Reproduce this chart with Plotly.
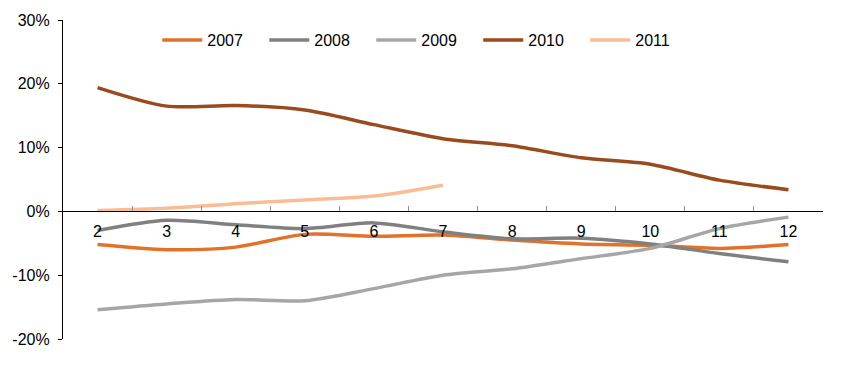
import plotly.graph_objects as go

months = ["2", "3", "4", "5", "6", "7", "8", "9", "10", "11", "12"]
y2007 = [-5.2, -6.0, -5.6, -3.6, -3.9, -3.7, -4.5, -5.1, -5.3, -5.8, -5.2]
y2008 = [-3.0, -1.4, -2.1, -2.7, -1.8, -3.2, -4.3, -4.2, -5.1, -6.6, -7.9]
y2009 = [-15.4, -14.5, -13.8, -14.0, -12.1, -10.0, -9.0, -7.4, -5.8, -2.7, -0.9]
y2010 = [19.4, 16.5, 16.6, 15.9, 13.6, 11.4, 10.3, 8.4, 7.4, 4.9, 3.4]
y2011 = [0.15, 0.5, 1.2, 1.8, 2.4, 4.1]

series = [
    ("2007", y2007, "#E2722A"),
    ("2008", y2008, "#808080"),
    ("2009", y2009, "#A6A6A6"),
    ("2010", y2010, "#9A4A1C"),
    ("2011", y2011, "#F8BD94"),
]

fig = go.Figure()
for name, vals, color in series:
    fig.add_trace(go.Scatter(
        x=months[:len(vals)], y=vals, name=name, mode="lines",
        line=dict(color=color, width=3.5, shape="spline", smoothing=0.8),
    ))

font = dict(family="Liberation Sans, Arial, sans-serif", size=16, color="#000000")
fig.update_layout(
    width=845, height=379,
    margin=dict(l=55, r=30, t=12, b=48),
    paper_bgcolor="white", plot_bgcolor="white",
    font=font,
    showlegend=True,
    legend=dict(orientation="h", x=0.124, xanchor="left", y=0.937, yanchor="middle",
                font=font, entrywidth=52, entrywidthmode="pixels",
                bgcolor="rgba(0,0,0,0)", itemwidth=40),
    xaxis=dict(type="category", anchor="free", position=0.4, automargin=False,
               showgrid=False, zeroline=False,
               showline=True, linecolor="#000000", linewidth=1.2,
               ticks="inside", ticklen=5, tickcolor="#909090", tickson="boundaries",
               ticklabelstandoff=5,
               tickfont=font, range=[-0.5, 10.5]),
    yaxis=dict(range=[-20, 30], tickvals=[-20, -10, 0, 10, 20, 30],
               ticktext=["-20%", "-10%", "0%", "10%", "20%", "30%"],
               automargin=False,
               showgrid=False, zeroline=False,
               showline=True, linecolor="#000000", linewidth=1.2,
               ticks="outside", ticklen=4, tickcolor="#000000",
               ticklabelstandoff=5,
               tickfont=font),
)

fig.write_html("out.html")
